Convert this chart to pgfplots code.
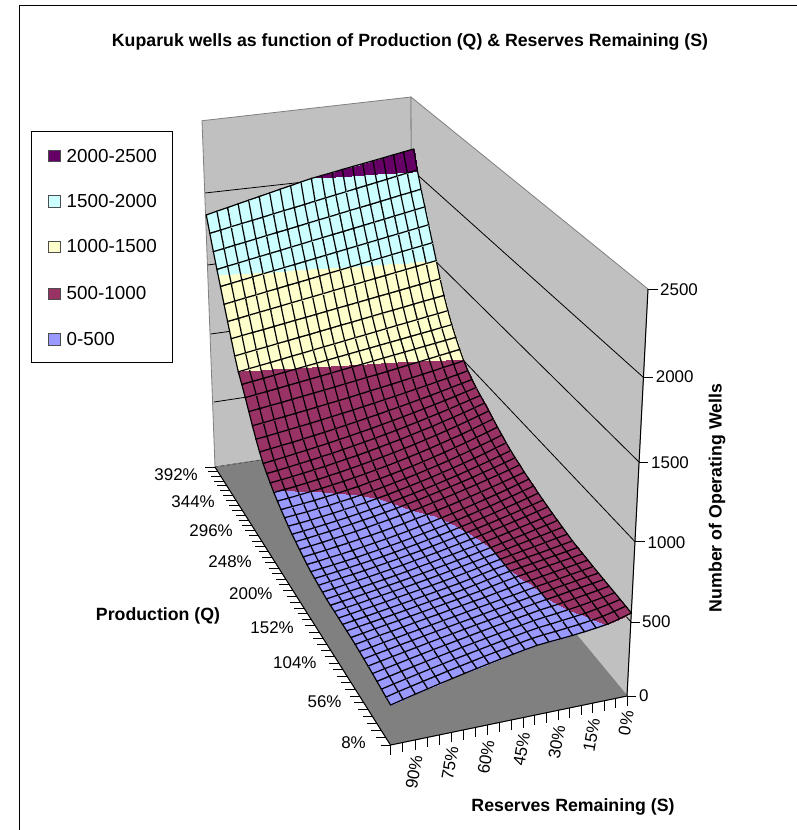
\documentclass[border=0pt]{standalone}
\usepackage{pgfplots}
\usepackage{pgfplotstable}
\usepackage{fontspec}
\setmainfont{Liberation Sans}
\pgfplotsset{compat=1.18}
\definecolor{band0}{HTML}{9999FF}
\definecolor{band1}{HTML}{993366}
\definecolor{band2}{HTML}{FFFFCC}
\definecolor{band3}{HTML}{CCFFFF}
\definecolor{band4}{HTML}{660066}
\definecolor{wall}{HTML}{C0C0C0}
\definecolor{floorgray}{HTML}{808080}

% wells, row by row from Q=8% to Q=392%; in a row S runs 0%,5%,...,100%
\pgfplotstableread[row sep=\\]{
wells\\
545\\522\\502\\491\\481\\473\\466\\460\\453\\440\\426\\411\\396\\380\\364\\347\\330\\312\\294\\275\\256\\
548\\528\\510\\497\\487\\479\\471\\464\\455\\441\\427\\413\\398\\382\\366\\350\\333\\316\\299\\281\\262\\
551\\533\\518\\504\\494\\485\\476\\468\\456\\442\\429\\414\\399\\384\\369\\353\\337\\320\\303\\286\\268\\
554\\538\\524\\511\\500\\490\\481\\471\\457\\444\\430\\416\\401\\387\\371\\356\\340\\324\\308\\291\\274\\
557\\543\\530\\517\\505\\495\\485\\472\\459\\445\\432\\418\\403\\389\\374\\359\\344\\328\\312\\296\\280\\
560\\548\\536\\524\\511\\499\\486\\473\\460\\446\\433\\419\\405\\390\\376\\361\\346\\331\\316\\301\\285\\
563\\551\\538\\526\\513\\500\\487\\474\\460\\447\\433\\419\\405\\391\\377\\363\\348\\334\\319\\304\\289\\
566\\553\\540\\527\\514\\502\\488\\474\\461\\447\\434\\420\\406\\392\\378\\364\\350\\336\\322\\307\\293\\
570\\557\\544\\531\\518\\505\\494\\478\\463\\448\\435\\421\\407\\393\\380\\366\\352\\338\\325\\311\\297\\
573\\560\\547\\535\\522\\510\\497\\482\\466\\449\\435\\421\\407\\394\\380\\367\\353\\340\\327\\313\\300\\
577\\563\\550\\537\\524\\511\\499\\484\\467\\450\\434\\420\\407\\393\\380\\366\\353\\340\\327\\314\\301\\
582\\568\\553\\539\\526\\513\\500\\485\\468\\450\\434\\420\\406\\393\\379\\366\\353\\340\\327\\315\\302\\
590\\575\\559\\544\\530\\515\\500\\484\\467\\451\\436\\421\\407\\393\\380\\367\\353\\340\\328\\315\\303\\
598\\581\\565\\549\\533\\516\\500\\484\\468\\452\\437\\422\\408\\394\\380\\367\\354\\341\\328\\316\\304\\
606\\588\\570\\552\\535\\518\\501\\485\\469\\454\\438\\424\\409\\395\\381\\368\\354\\341\\329\\317\\305\\
614\\595\\576\\558\\540\\522\\505\\488\\472\\456\\441\\425\\411\\396\\382\\369\\356\\343\\331\\319\\307\\
624\\604\\584\\565\\546\\528\\510\\493\\476\\460\\444\\429\\414\\399\\385\\372\\359\\347\\335\\323\\312\\
634\\613\\592\\572\\553\\534\\516\\498\\481\\464\\448\\432\\418\\403\\389\\376\\363\\351\\340\\329\\318\\
645\\623\\601\\581\\560\\541\\522\\504\\486\\469\\453\\437\\422\\407\\393\\380\\368\\356\\345\\334\\324\\
657\\634\\612\\590\\569\\549\\530\\511\\493\\475\\459\\443\\427\\413\\399\\386\\373\\361\\350\\340\\330\\
669\\646\\623\\601\\580\\559\\539\\520\\502\\484\\468\\451\\436\\421\\408\\395\\382\\370\\360\\349\\340\\
681\\658\\636\\614\\593\\573\\553\\534\\516\\498\\482\\465\\450\\435\\421\\408\\395\\384\\372\\362\\352\\
696\\673\\651\\630\\609\\589\\569\\550\\532\\514\\498\\481\\466\\451\\437\\423\\410\\398\\386\\375\\365\\
710\\687\\664\\643\\621\\601\\581\\562\\544\\526\\510\\493\\478\\463\\449\\436\\423\\411\\400\\389\\379\\
725\\701\\677\\655\\633\\612\\592\\572\\553\\536\\519\\502\\487\\472\\458\\445\\433\\422\\411\\401\\392\\
745\\720\\695\\672\\649\\628\\607\\587\\568\\550\\533\\516\\501\\486\\473\\460\\448\\437\\427\\418\\410\\
765\\739\\714\\690\\667\\645\\624\\604\\585\\567\\550\\533\\518\\504\\490\\478\\466\\456\\446\\438\\430\\
787\\761\\736\\712\\689\\667\\646\\625\\606\\588\\571\\554\\539\\524\\511\\498\\487\\476\\466\\458\\450\\
810\\785\\760\\736\\714\\692\\671\\651\\632\\613\\596\\580\\564\\549\\536\\523\\511\\500\\490\\480\\472\\
833\\809\\785\\762\\740\\719\\698\\678\\659\\641\\624\\608\\592\\577\\563\\550\\537\\525\\514\\504\\495\\
855\\832\\809\\788\\767\\746\\727\\708\\689\\672\\655\\639\\623\\609\\595\\581\\569\\557\\545\\535\\525\\
877\\855\\834\\813\\793\\774\\755\\737\\719\\702\\686\\670\\655\\640\\626\\613\\600\\588\\576\\565\\555\\
900\\880\\860\\841\\822\\804\\786\\769\\752\\736\\720\\705\\690\\676\\662\\649\\636\\624\\612\\601\\590\\
925\\907\\889\\871\\854\\838\\821\\805\\790\\775\\760\\746\\732\\718\\705\\693\\680\\668\\657\\646\\635\\
955\\939\\923\\908\\892\\878\\863\\849\\835\\821\\808\\794\\782\\769\\757\\745\\733\\722\\711\\700\\690\\
995\\981\\967\\953\\940\\926\\913\\900\\887\\875\\863\\850\\838\\827\\815\\804\\793\\782\\771\\760\\750\\
1045\\1033\\1020\\1008\\996\\984\\972\\960\\948\\937\\925\\914\\902\\891\\880\\869\\858\\847\\836\\826\\815\\
1100\\1089\\1078\\1067\\1056\\1045\\1034\\1023\\1012\\1001\\990\\979\\968\\957\\946\\935\\924\\913\\902\\891\\880\\
1160\\1149\\1138\\1127\\1116\\1105\\1094\\1083\\1072\\1061\\1050\\1039\\1028\\1017\\1006\\995\\984\\973\\962\\951\\940\\
1230\\1218\\1207\\1195\\1183\\1172\\1160\\1148\\1136\\1125\\1113\\1101\\1090\\1078\\1066\\1055\\1043\\1031\\1019\\1008\\996\\
1310\\1298\\1287\\1275\\1263\\1251\\1240\\1228\\1216\\1204\\1193\\1181\\1169\\1157\\1146\\1134\\1122\\1110\\1099\\1087\\1075\\
1400\\1388\\1377\\1365\\1353\\1341\\1330\\1318\\1306\\1294\\1283\\1271\\1259\\1247\\1236\\1224\\1212\\1200\\1189\\1177\\1165\\
1500\\1488\\1476\\1463\\1451\\1439\\1427\\1414\\1402\\1390\\1378\\1365\\1353\\1341\\1329\\1316\\1304\\1292\\1280\\1267\\1255\\
1600\\1587\\1575\\1562\\1549\\1536\\1524\\1511\\1498\\1485\\1473\\1460\\1447\\1434\\1422\\1409\\1396\\1383\\1371\\1358\\1345\\
1700\\1687\\1674\\1661\\1648\\1635\\1622\\1609\\1596\\1583\\1570\\1557\\1544\\1531\\1518\\1505\\1492\\1479\\1466\\1453\\1440\\
1800\\1787\\1773\\1760\\1746\\1733\\1719\\1706\\1692\\1679\\1665\\1652\\1638\\1625\\1611\\1598\\1584\\1571\\1557\\1544\\1530\\
1900\\1886\\1873\\1859\\1845\\1831\\1818\\1804\\1790\\1776\\1763\\1749\\1735\\1721\\1708\\1694\\1680\\1666\\1653\\1639\\1625\\
2010\\1996\\1982\\1967\\1953\\1939\\1925\\1910\\1896\\1882\\1868\\1853\\1839\\1825\\1811\\1796\\1782\\1768\\1754\\1739\\1725\\
2132\\2119\\2106\\2092\\2079\\2066\\2053\\2040\\2026\\2013\\2000\\1983\\1965\\1948\\1930\\1913\\1895\\1878\\1860\\1843\\1825\\
}\wellsdata

\pgfplotstableread[row sep=\\]{
Q\\
8\\16\\24\\32\\40\\48\\56\\64\\72\\80\\88\\96\\104\\112\\120\\128\\136\\144\\152\\160\\168\\176\\184\\192\\200\\
208\\216\\224\\232\\240\\248\\256\\264\\272\\280\\288\\296\\304\\312\\320\\328\\336\\344\\352\\360\\368\\376\\384\\392\\
}\qticks

\pgfplotstableread[row sep=\\]{
S\\
0\\5\\10\\15\\20\\25\\30\\35\\40\\45\\50\\55\\60\\65\\70\\75\\80\\85\\90\\95\\100\\
}\sticks

% tick marks stick out of the floor edges: left for Q, down for S
\pgfdeclareplotmark{qtick}{\pgfpathmoveto{\pgfpoint{-10bp}{0bp}}\pgfpathlineto{\pgfpoint{0bp}{0bp}}\pgfusepathqstroke}
\pgfdeclareplotmark{stick}{\pgfpathmoveto{\pgfpoint{0bp}{0bp}}\pgfpathlineto{\pgfpoint{0bp}{-10bp}}\pgfusepathqstroke}

% picture position of a grid point
\newcommand{\uu}{mod(\coordindex,21)/20}
\newcommand{\vv}{floor((\coordindex+0.5)/21)/48}
\newcommand{\ww}{\thisrow{wells}/2500}

\begin{document}
\begin{tikzpicture}[
    tl/.style={font=\fontsize{17}{20}\selectfont, inner sep=0pt},
    bt/.style={font=\fontsize{17.8}{21}\selectfont\bfseries, inner sep=0pt},
    lg/.style={font=\fontsize{18.9}{22}\selectfont, inner sep=0pt, anchor=west},
]
\useasboundingbox (0,0) rectangle (797bp,830bp);
\begin{axis}[
    at={(0,0)}, anchor=south west,
    scale only axis, width=797bp, height=830bp,
    xmin=0, xmax=797, ymin=0, ymax=830,
    y dir=reverse, hide axis, clip=false,
    colormap={bands}{color=(band0) color=(band1) color=(band2) color=(band3) color=(band4)},
    colormap access=piecewise constant,
    point meta min=0, point meta max=2500,
]
% walls and floor
\addplot[fill=wall, draw=floorgray, line width=0.8bp] coordinates {(215,467) (202,120.7) (411,97) (412.5,437)} --cycle;
\addplot[fill=wall, draw=floorgray, line width=0.8bp] coordinates {(412.5,437) (411,97) (648,289) (627,696)} --cycle;
% grid lines on the walls
\addplot[black, line width=0.8bp] coordinates {(214,402) (412.5,372) (631,622)};
\addplot[black, line width=0.8bp] coordinates {(210.7,334) (412,306) (635,541.7)};
\addplot[black, line width=0.8bp] coordinates {(207.5,265) (412,238) (639,462)};
\addplot[black, line width=0.8bp] coordinates {(205,193) (412,170) (643,377)};
\addplot[fill=floorgray, draw=floorgray, line width=0.8bp] coordinates {(627,696) (390.5,745) (215,467) (412.5,437)} --cycle;
\addplot[black!70, dashed, line width=0.8bp] coordinates {(215,467) (412.5,437)};
% the surface
\addplot[surf, shader=faceted interp, faceted color=black, line width=1.2bp,
    mesh/rows=49, mesh/cols=21, point meta=explicit]
    table[x=wells, y=wells,
      x expr={(627-253.14*\uu-116.75*\vv-30.84*\ww)/(1-0.04261*\uu+0.23847*\vv-0.08*\ww)},
      y expr={(696+17.26*\uu-154.79*\vv-430.1*\ww)/(1-0.04261*\uu+0.23847*\vv-0.08*\ww)},
      meta=wells] {\wellsdata};
% axis lines and ticks
\addplot[black, line width=1bp] coordinates {(215,467) (390.5,745) (627,696)};
\addplot[black, line width=1bp] coordinates {(627,696) (648,289)};
\addplot[only marks, mark=qtick, black, line width=0.9bp] table[x=Q, y=Q,
    x expr={(373.86-116.75*(\thisrow{Q}-8)/384)/(0.95739+0.23847*(\thisrow{Q}-8)/384)},
    y expr={(713.26-154.79*(\thisrow{Q}-8)/384)/(0.95739+0.23847*(\thisrow{Q}-8)/384)}] {\qticks};
\addplot[only marks, mark=stick, black, line width=0.9bp] table[x=S, y=S,
    x expr={(627-253.14*\thisrow{S}/100)/(1-0.04261*\thisrow{S}/100)},
    y expr={(696+17.26*\thisrow{S}/100)/(1-0.04261*\thisrow{S}/100)}] {\sticks};
\addplot[black, line width=0.9bp] coordinates {(627,696) (636,696)};
\addplot[black, line width=0.9bp] coordinates {(631,622) (640,622)};
\addplot[black, line width=0.9bp] coordinates {(635,541.7) (645,541.7)};
\addplot[black, line width=0.9bp] coordinates {(639,462) (648.3,462)};
\addplot[black, line width=0.9bp] coordinates {(643,377) (652.7,377)};
\addplot[black, line width=0.9bp] coordinates {(648,289) (658,289)};
% chart frame
\draw[black, line width=1bp] (axis cs:19,830) -- (axis cs:19,5) -- (axis cs:797,5);
% tick labels
\node[tl, anchor=west] at (axis cs:639,696) {0};
\node[tl, anchor=west] at (axis cs:642,622) {500};
\node[tl, anchor=west] at (axis cs:647.5,543) {1000};
\node[tl, anchor=west] at (axis cs:651,463) {1500};
\node[tl, anchor=west] at (axis cs:655.7,377) {2000};
\node[tl, anchor=west] at (axis cs:660,290) {2500};
\node[tl, anchor=east] at (axis cs:198,475) {392\%};
\node[tl, anchor=east] at (axis cs:215,501.7) {344\%};
\node[tl, anchor=east] at (axis cs:233,531) {296\%};
\node[tl, anchor=east] at (axis cs:252,561.7) {248\%};
\node[tl, anchor=east] at (axis cs:272.7,594) {200\%};
\node[tl, anchor=east] at (axis cs:294,628) {152\%};
\node[tl, anchor=east] at (axis cs:316.7,663) {104\%};
\node[tl, anchor=east] at (axis cs:341.7,701.7) {56\%};
\node[tl, anchor=east] at (axis cs:366,743) {8\%};
\node[tl, rotate=80] at (axis cs:414,772) {90\%};
\node[tl, rotate=80] at (axis cs:450,763) {75\%};
\node[tl, rotate=80] at (axis cs:486,757) {60\%};
\node[tl, rotate=80] at (axis cs:521.7,749) {45\%};
\node[tl, rotate=80] at (axis cs:556.7,742) {30\%};
\node[tl, rotate=80] at (axis cs:591.7,735) {15\%};
\node[tl, rotate=80] at (axis cs:626,723) {0\%};
% titles
\node[bt] at (axis cs:410,41.5) {Kuparuk wells as function of Production (Q) \& Reserves Remaining (S)};
\node[bt] at (axis cs:573,807) {Reserves Remaining (S)};
\node[bt] at (axis cs:158,615.5) {Production (Q)};
\node[bt, rotate=90] at (axis cs:717,498) {Number of Operating Wells};
% legend
\draw[black, line width=1bp, fill=white] (axis cs:31,131.7) rectangle (axis cs:172.7,362.7);
\draw[fill=band4, draw=black!70, line width=0.8bp] (axis cs:48.5,150) rectangle (axis cs:60.5,161.5);
\draw[fill=band3, draw=black!70, line width=0.8bp] (axis cs:48.5,195.5) rectangle (axis cs:60.5,207);
\draw[fill=band2, draw=black!70, line width=0.8bp] (axis cs:48.5,241) rectangle (axis cs:60.5,252.5);
\draw[fill=band1, draw=black!70, line width=0.8bp] (axis cs:48.5,288) rectangle (axis cs:60.5,299.5);
\draw[fill=band0, draw=black!70, line width=0.8bp] (axis cs:48.5,333.5) rectangle (axis cs:60.5,345);
\node[lg] at (axis cs:66.5,155.7) {2000-2500};
\node[lg] at (axis cs:66.5,201) {1500-2000};
\node[lg] at (axis cs:66.5,246.5) {1000-1500};
\node[lg] at (axis cs:66.5,293.5) {500-1000};
\node[lg] at (axis cs:66.5,339) {0-500};
\end{axis}
\end{tikzpicture}
\end{document}
